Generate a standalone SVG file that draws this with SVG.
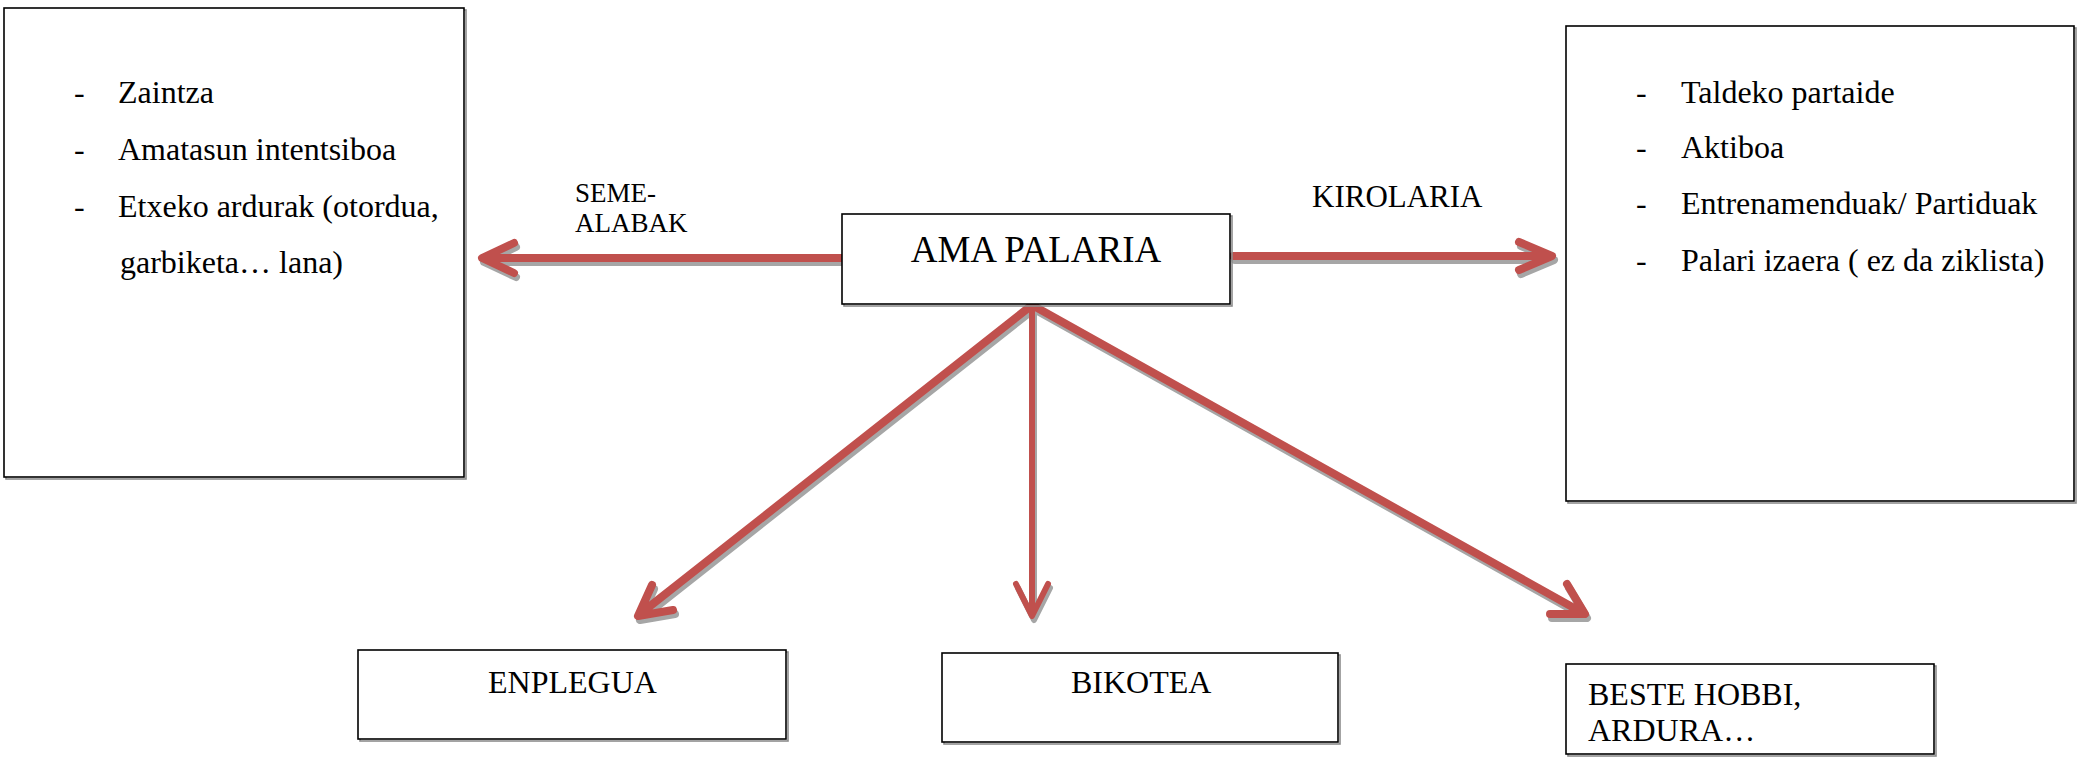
<svg xmlns="http://www.w3.org/2000/svg" width="2078" height="757" viewBox="0 0 2078 757">
<defs>
<style>
.box{fill:#fff;stroke:#000;stroke-width:1.6}
.bsh{fill:none;stroke:#8c8c8c;stroke-width:1.6}
.t{font-family:"Liberation Serif","Times New Roman",serif;fill:#000}
.s32{font-size:32px}
.ar{fill:none;stroke:#C0504D;stroke-linecap:round;stroke-linejoin:round}
.sh{fill:none;stroke:#A6A6A6;stroke-linecap:round;stroke-linejoin:round}
.w8{stroke-width:8}
.w6{stroke-width:6}
</style>
</defs>
<rect width="2078" height="757" fill="#fff"/>

<g id="connectors">
  <g transform="translate(2,4)">
    <path class="sh w8" d="M842 258 H483 M514 243 L482 258 L514 273"/>
    <path class="sh w8" d="M1233 256 H1550 M1519 242 L1552 256 L1519 270"/>
    <path class="sh w8" d="M1032 305 L640 614 M652 585 L638 616 L673 610"/>
    <path class="sh w6" d="M1032 305 V614 M1016 584 L1032 616 L1048 584"/>
    <path class="sh w8" d="M1032 305 L1583 613 M1567 584 L1585 614 L1550 614"/>
  </g>
  <path class="ar w8" d="M842 258 H483 M514 243 L482 258 L514 273"/>
  <path class="ar w8" d="M1233 256 H1550 M1519 242 L1552 256 L1519 270"/>
  <path class="ar w8" d="M1032 305 L640 614 M652 585 L638 616 L673 610"/>
  <path class="ar w6" d="M1032 305 V614 M1016 584 L1032 616 L1048 584"/>
  <path class="ar w8" d="M1032 305 L1583 613 M1567 584 L1585 614 L1550 614"/>
  <text class="t" x="575" y="202" font-size="27">SEME-</text>
  <text class="t" x="575" y="232" font-size="27">ALABAK</text>
  <text class="t" x="1312" y="207" font-size="31">KIROLARIA</text>
</g>

<g id="node-left">
  <rect class="bsh" x="6" y="10" width="460" height="469"/>
  <rect class="box" x="4" y="8" width="460" height="469"/>
  <text class="t s32" x="74" y="103">-</text>
  <text class="t s32" x="118" y="103">Zaintza</text>
  <text class="t s32" x="74" y="160">-</text>
  <text class="t s32" x="118" y="160">Amatasun intentsiboa</text>
  <text class="t s32" x="74" y="217">-</text>
  <text class="t s32" x="118" y="217">Etxeko ardurak (otordua,</text>
  <text class="t s32" x="120" y="273">garbiketa… lana)</text>
</g>

<g id="node-center">
  <rect class="bsh" x="844" y="216" width="388" height="90"/>
  <rect class="box" x="842" y="214" width="388" height="90"/>
  <text class="t" x="1036" y="262" font-size="37" text-anchor="middle">AMA PALARIA</text>
</g>

<g id="node-right">
  <rect class="bsh" x="1568" y="28" width="508" height="475"/>
  <rect class="box" x="1566" y="26" width="508" height="475"/>
  <text class="t s32" x="1636" y="103">-</text>
  <text class="t s32" x="1681" y="103">Taldeko partaide</text>
  <text class="t s32" x="1636" y="158">-</text>
  <text class="t s32" x="1681" y="158">Aktiboa</text>
  <text class="t s32" x="1636" y="214">-</text>
  <text class="t s32" x="1681" y="214">Entrenamenduak/ Partiduak</text>
  <text class="t s32" x="1636" y="271">-</text>
  <text class="t s32" x="1681" y="271">Palari izaera ( ez da ziklista)</text>
</g>

<g id="node-enplegua">
  <rect class="bsh" x="360" y="652" width="428" height="89"/>
  <rect class="box" x="358" y="650" width="428" height="89"/>
  <text class="t s32" x="488" y="693">ENPLEGUA</text>
</g>

<g id="node-bikotea">
  <rect class="bsh" x="944" y="655" width="396" height="89"/>
  <rect class="box" x="942" y="653" width="396" height="89"/>
  <text class="t s32" x="1071" y="693">BIKOTEA</text>
</g>

<g id="node-beste">
  <rect class="bsh" x="1568" y="666" width="368" height="90"/>
  <rect class="box" x="1566" y="664" width="368" height="90"/>
  <text class="t s32" x="1588" y="705">BESTE HOBBI,</text>
  <text class="t s32" x="1588" y="741">ARDURA…</text>
</g>
</svg>
